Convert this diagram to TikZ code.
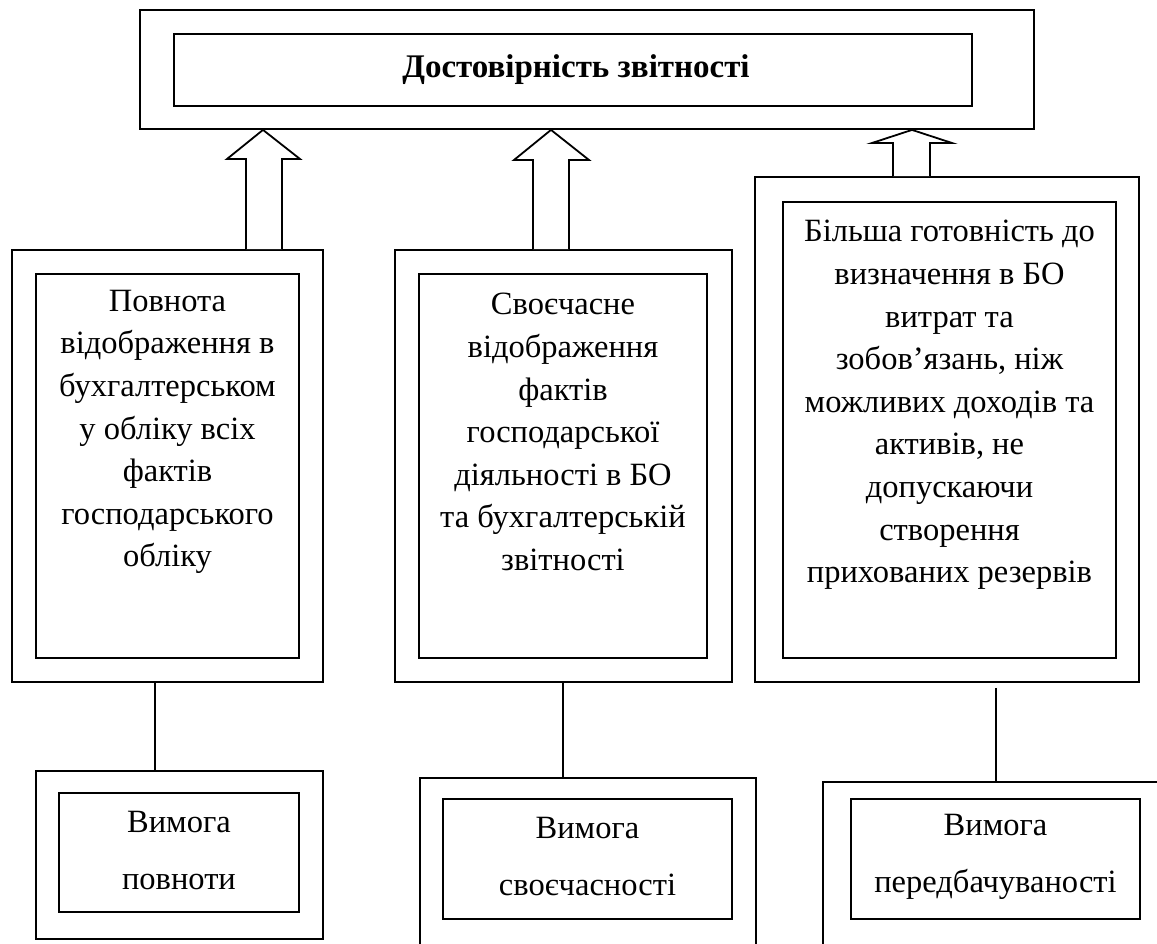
\documentclass[tikz,border=0pt]{standalone}
\usepackage{fontspec}
\setmainfont{Liberation Serif}
\usetikzlibrary{calc}
\tikzset{
  frame/.style={draw, line width=1.8pt, inner sep=0pt, rectangle},
  label/.style={align=center, inner sep=0pt, font=\fontsize{32.5}{42.6}\selectfont},
  reqlabel/.style={align=center, inner sep=0pt, font=\fontsize{32.5}{57}\selectfont},
  blockarrow/.style={draw, line width=1.8pt, fill=white, line join=miter},
  link/.style={draw, line width=1.8pt},
}
\begin{document}
\begin{tikzpicture}[x=1pt,y=-1pt]
\useasboundingbox (0,0) rectangle (1157,943);
\clip (0,0) rectangle (1157,943);

% top block
\node[frame, minimum width=894pt, minimum height=119pt] (top) at (587,69.5) {};
\node[frame, minimum width=798pt, minimum height=72pt] (topin) at (573,70) {};
\node[font=\fontsize{33}{40}\selectfont\bfseries, inner sep=0pt] (title) at (576,70) {Достовірність звітності};

% three middle blocks
\node[frame, minimum width=311pt, minimum height=432pt] (c1) at (167.5,466) {};
\node[frame, minimum width=263pt, minimum height=384pt] (c1in) at (167.5,466) {};
\node[label] (t1) at (167.5,432) {Повнота\\відображення в\\бухгалтерськом\\у обліку всіх\\фактів\\господарського\\обліку};

\node[frame, minimum width=337pt, minimum height=432pt] (c2) at (563.5,466) {};
\node[frame, minimum width=288pt, minimum height=384pt] (c2in) at (563,466) {};
\node[label] (t2) at (563,432) {Своєчасне\\відображення\\фактів\\господарської\\діяльності в БО\\та бухгалтерській\\звітності};

\node[frame, minimum width=384pt, minimum height=505pt] (c3) at (947,429.5) {};
\node[frame, minimum width=333pt, minimum height=456pt] (c3in) at (949.5,430) {};
\node[label] (t3) at (949.5,405) {Більша готовність до\\визначення в БО\\витрат та\\зобов’язань, ніж\\можливих доходів та\\активів, не\\допускаючи\\створення\\прихованих резервів};

% block arrows up to the top block
\draw[blockarrow] (c1.north -| 246,0) -- (246,159) -- (227,159) -- (top.south -| 263,0)
  -- (300,159) -- (282,159) -- (c1.north -| 282,0);
\draw[blockarrow] (c2.north -| 533,0) -- (533,160) -- (514,160) -- (top.south -| 551,0)
  -- (589,160) -- (569,160) -- (c2.north -| 569,0);
\draw[blockarrow] (c3.north -| 893,0) -- (893,143) -- (872,143) -- (top.south -| 912,0)
  -- (952,143) -- (930,143) -- (c3.north -| 930,0);

% requirement blocks
\node[frame, minimum width=287pt, minimum height=168pt] (r1) at (179.5,855) {};
\node[frame, minimum width=240pt, minimum height=119pt] (r1in) at (179,852.5) {};
\node[reqlabel] (q1) at (179,851) {Вимога\\повноти};

\node[frame, minimum width=336pt, minimum height=200pt] (r2) at (588,878) {};
\node[frame, minimum width=289pt, minimum height=120pt] (r2in) at (587.5,859) {};
\node[reqlabel] (q2) at (587.5,857) {Вимога\\своєчасності};

\node[frame, minimum width=380pt, minimum height=200pt] (r3) at (1013,882) {};
\node[frame, minimum width=289pt, minimum height=120pt] (r3in) at (995.5,859) {};
\node[reqlabel] (q3) at (995.5,857) {Вимога\\передбачуваності};

% links between blocks
\draw[link] (c1.south -| 155,0) -- (r1.north -| 155,0);
\draw[link] (c2.south -| 563,0) -- (r2.north -| 563,0);
\draw[link] ($(c3.south -| 996,0)+(0,5)$) -- (r3.north -| 996,0);
\end{tikzpicture}
\end{document}
